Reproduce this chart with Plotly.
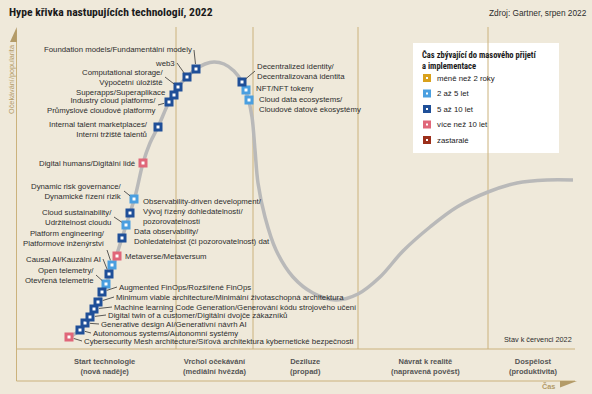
import plotly.graph_objects as go

# ---------------- data ----------------
title_text = "Hype křivka nastupujících technologií, 2022"
source_text = "Zdroj: Gartner, srpen 2022"
y_axis_text = "Očekávání/popularita"
x_axis_text = "Čas"
status_text = "Stav k červenci 2022"
legend_title = "Čas zbývající do masového přijetí<br>a implementace"

phase_names = ["Start technologie<br>(nová naděje)", "Vrchol očekávání<br>(mediální hvězda)",
               "Deziluze<br>(propad)", "Návrat k realitě<br>(napravená pověst)",
               "Dospělost<br>(produktivita)"]
phase_bounds = [160, 237, 342, 472]          # time units
phase_label_t = [88, 198, 289, 409, 517]     # time units (label centres)

# hype curve (time, expectations)
curve_t = [52, 64, 74, 82, 90, 98, 106, 114, 120, 127, 134, 142, 153, 162, 171, 180, 189, 198,
           208, 218, 226, 232, 236, 239, 242, 249, 260, 277, 297, 320, 342, 364, 387, 414, 441,
           472, 501, 531, 557]
curve_e = [11, 19, 32, 47, 65, 86, 111, 136, 156, 186, 206, 222, 247, 262, 272, 280, 285, 287,
           285, 278, 267, 251, 232, 199, 166, 132, 99, 72, 56, 49, 55, 72, 98, 122, 142,
           157, 166, 169, 169]

categories = ["méně než 2 roky", "2 až 5 let", "5 až 10 let", "více než 10 let", "zastaralé"]
cat_colors = ["#d9a11c", "#4a9fe0", "#1f4f98", "#e06679", "#9c2f1b"]

tech_names = [
    "Cybersecurity Mesh architecture/Síťová architektura kybernetické bezpečnosti",
    "Autonomous systems/Autonomní systémy",
    "Generative design AI/Generativní návrh AI",
    "Digital twin of a customer/Digitální dvojče zákazníků",
    "Machine learning Code Generation/Generování kódu strojového učení",
    "Minimum viable architecture/Minimální životaschopná architektura",
    "Augmented FinOps/Rozšířené FinOps",
    "Open telemetry/<br>Otevřená telemetrie",
    "Causal AI/Kauzální AI",
    "Platform engineering/<br>Platformové inženýrství",
    "Metaverse/Metaversum",
    "Data observability/<br>Dohledatelnost (či pozorovatelnost) dat",
    "Cloud sustainability/<br>Udržitelnost cloudu",
    "Observability-driven development/<br>Vývoj řízený dohledatelností/<br>pozorovatelností",
    "Dynamic risk governance/<br>Dynamické řízení rizik",
    "Digital humans/Digitální lidé",
    "Internal talent marketplaces/<br>Interní tržiště talentů",
    "Industry cloud platforms/<br>Průmyslové cloudové platformy",
    "Superapps/Superaplikace",
    "Computational storage/<br>Výpočetní úložiště",
    "web3",
    "Foundation models/Fundamentální modely",
    "Decentralized identity/<br>Decentralizovaná identita",
    "NFT/NFT tokeny",
    "Cloud data ecosystems/<br>Cloudové datové ekosystémy",
]
tech_t = [53, 64, 69, 74, 78, 82, 86, 90, 93, 96, 101, 106, 110, 114, 118, 127, 142, 153, 158,
          162, 171, 180, 226, 230, 233]
tech_e = [12, 19, 26, 32, 40, 47, 57, 65, 75, 84, 93, 111, 124, 136, 150, 186, 222, 247, 254,
          262, 272, 280, 267, 259, 249]
tech_cat = [3, 2, 2, 2, 2, 2, 2, 1, 2, 1, 3, 2, 1, 2, 1, 3, 2, 2, 2, 2, 2, 2, 2, 1, 1]

# label placement (layout only): (arrow?, dx px, dy px (down = +), xanchor, yanchor)
label_layout = [
    (True, 13, 4, "left", "middle"),
    (True, 11, 3, "left", "middle"),
    (True, 14, 1, "left", "middle"),
    (True, 16, -2, "left", "middle"),
    (True, 18, -2, "left", "middle"),
    (True, 16, -5, "left", "middle"),
    (True, 15, -5, "left", "middle"),
    (True, -10, -9, "right", "middle"),
    (True, -6, -15, "right", "middle"),
    (True, -5, -15, "right", "bottom"),
    (False, 6, 0, "left", "middle"),
    (False, 10, -1.5, "left", "middle"),
    (True, -12, -8, "right", "middle"),
    (False, 11, -1.5, "left", "middle"),
    (True, -10, -8, "right", "middle"),
    (False, -6, 0, "right", "middle"),
    (False, -8, 2.5, "right", "middle"),
    (True, -11, 3, "right", "middle"),
    (False, -7, -3, "right", "middle"),
    (True, -13, -10, "right", "middle"),
    (True, -10, -14, "right", "middle"),
    (True, -2, -19, "right", "middle"),
    (True, 13, -11, "left", "middle"),
    (False, 8, -2, "left", "middle"),
    (False, 8, 4, "left", "middle"),
]

# ---------------- styling ----------------
FONT = "Liberation Sans, Arial, sans-serif"
FONT_COND = "Roboto Condensed, Liberation Sans Narrow, Liberation Sans, sans-serif"
BG = "#efe9da"
TAN = "#cbb27c"
TAN_DARK = "#b39b68"
TXT = "#2d2d2d"

W, H = 592, 394
L, R, T, B = 16, 575, 27, 349


def px(xp):
    return (xp - L) / (R - L)


def py(yp):
    return (B - yp) / (B - T)


fig = go.Figure()

fig.add_trace(go.Scatter(x=curve_t, y=curve_e, mode="lines",
                         line=dict(color="#b9b9b9", width=3.5, shape="spline", smoothing=1),
                         hoverinfo="skip", showlegend=False))

for ci, cname in enumerate(categories):
    xs = [t for t, c in zip(tech_t, tech_cat) if c == ci]
    ys = [e for e, c in zip(tech_e, tech_cat) if c == ci]
    fig.add_trace(go.Scatter(x=xs, y=ys, mode="markers", name=cname, cliponaxis=False,
                             marker=dict(symbol="square", size=6, color="white",
                                         line=dict(color=cat_colors[ci], width=3)),
                             showlegend=False))

annotations = []
for name, t, e, (arrow, dx, dy, xa, ya) in zip(tech_names, tech_t, tech_e, label_layout):
    a = dict(x=t, y=e, xref="x", yref="y", text=name, xanchor=xa, yanchor=ya,
             align="left" if xa == "left" else "right",
             font=dict(family=FONT, size=7.8, color=TXT))
    if arrow:
        a.update(showarrow=True, ax=dx, ay=dy, arrowhead=0, arrowwidth=0.8,
                 arrowcolor="#333333", standoff=5)
    else:
        a.update(showarrow=False, xshift=dx, yshift=-dy)
    annotations.append(a)

# title, source, axis texts
annotations.append(dict(x=px(7), y=py(12), xref="paper", yref="paper", text="<b>" + title_text + "</b>",
                        showarrow=False, xanchor="left", yanchor="middle",
                        font=dict(family=FONT_COND, size=11.6, color="#1a1a1a")))
annotations.append(dict(x=px(589), y=py(12.5), xref="paper", yref="paper", text=source_text,
                        showarrow=False, xanchor="right", yanchor="middle",
                        font=dict(family=FONT, size=8.3, color=TXT)))
annotations.append(dict(x=px(11), y=py(79), xref="paper", yref="paper", text=y_axis_text,
                        showarrow=False, textangle=-90, xanchor="center", yanchor="middle",
                        font=dict(family=FONT, size=7.3, color=TAN_DARK)))
annotations.append(dict(x=px(548), y=py(387), xref="paper", yref="paper", text="<b>" + x_axis_text + "</b>",
                        showarrow=False, xanchor="center", yanchor="middle",
                        font=dict(family=FONT, size=7.3, color=TAN_DARK)))
annotations.append(dict(x=px(574), y=py(339), xref="paper", yref="paper", text=status_text,
                        showarrow=False, xanchor="right", yanchor="middle",
                        font=dict(family=FONT, size=7.3, color=TXT)))
for name, t in zip(phase_names, phase_label_t):
    annotations.append(dict(x=t, y=py(366), xref="x", yref="paper", text="<b>" + name + "</b>",
                            showarrow=False, xanchor="center", yanchor="middle", align="center",
                            font=dict(family=FONT, size=7.5, color="#555555")))

# legend (drawn by hand to match the boxed key)
annotations.append(dict(x=px(420), y=py(60), xref="paper", yref="paper", text="<b>" + legend_title + "</b>",
                        showarrow=False, xanchor="left", yanchor="middle", align="left",
                        font=dict(family=FONT_COND, size=8.5, color="#1a1a1a")))
shapes = []
shapes.append(dict(type="rect", xref="paper", yref="paper", x0=px(413), x1=px(559), y0=py(43), y1=py(153),
                   fillcolor="white", line=dict(width=0), layer="below"))
for i, (cname, col) in enumerate(zip(categories, cat_colors)):
    cy = 78 + i * 15.5
    shapes.append(dict(type="rect", xref="paper", yref="paper", x0=px(424.5), x1=px(429.5),
                       y0=py(cy - 2.5), y1=py(cy + 2.5), fillcolor="white",
                       line=dict(color=col, width=3)))
    annotations.append(dict(x=px(435), y=py(cy), xref="paper", yref="paper", text=cname,
                            showarrow=False, xanchor="left", yanchor="middle",
                            font=dict(family=FONT, size=7.8, color="#1a1a1a")))

# frame lines
for b in phase_bounds:
    shapes.append(dict(type="line", xref="x", yref="paper", x0=b, x1=b, y0=0, y1=1,
                       line=dict(color=TAN, width=1), layer="below"))
shapes.append(dict(type="line", xref="paper", yref="paper", x0=0, x1=1, y0=0, y1=0,
                   line=dict(color=TAN, width=1)))
shapes.append(dict(type="line", xref="paper", yref="paper", x0=px(16.5), x1=1, y0=py(381), y1=py(381),
                   line=dict(color=TAN, width=1)))
shapes.append(dict(type="line", xref="paper", yref="paper", x0=px(16.5), x1=px(16.5), y0=py(381), y1=py(30),
                   line=dict(color=TAN, width=1)))
shapes.append(dict(type="path", xref="paper", yref="paper",
                   path=f"M {px(16.8)},{py(27)} L {px(16.8)},{py(42)} L {px(10)},{py(42)} Z",
                   fillcolor=TAN_DARK, line=dict(width=0)))
shapes.append(dict(type="path", xref="paper", yref="paper",
                   path=f"M {px(560)},{py(381)} L {px(577)},{py(381)} L {px(560)},{py(387.5)} Z",
                   fillcolor=TAN_DARK, line=dict(width=0)))

fig.update_layout(
    width=W, height=H,
    margin=dict(l=L, r=W - R, t=T, b=H - B, pad=0),
    paper_bgcolor=BG, plot_bgcolor=BG,
    xaxis=dict(range=[0, R - L], visible=False, fixedrange=True),
    yaxis=dict(range=[0, B - T], visible=False, fixedrange=True),
    showlegend=False,
    hovermode=False,
    annotations=annotations,
    shapes=shapes,
    font=dict(family=FONT),
)

fig.write_html("out.html", config={"displayModeBar": False},
               post_script="document.body.style.margin='0px';")
